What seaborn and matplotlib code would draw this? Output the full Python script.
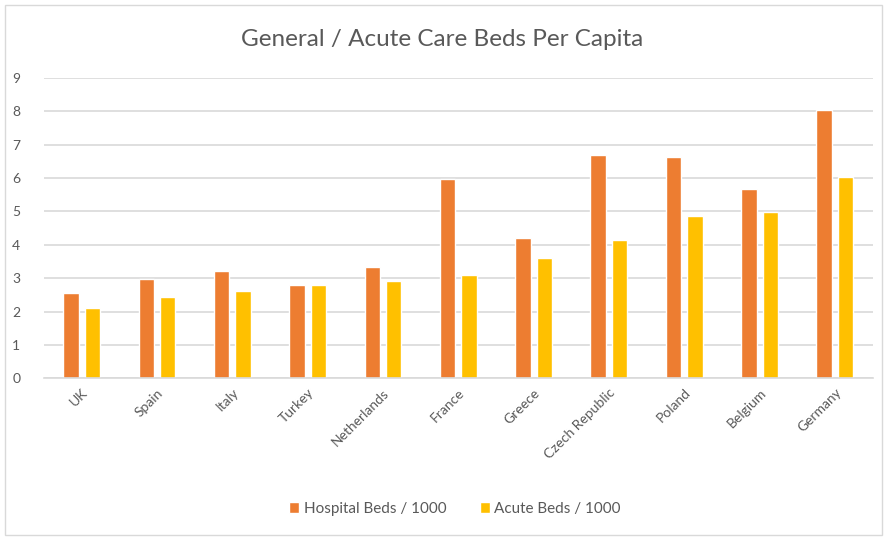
import pandas as pd
import seaborn as sns
import matplotlib.pyplot as plt
from matplotlib.patches import Rectangle

# Values
countries = ['UK', 'Spain', 'Italy', 'Turkey', 'Netherlands', 'France', 'Greece',
             'Czech Republic', 'Poland', 'Belgium', 'Germany']
hospital_beds = [2.56, 2.98, 3.21, 2.79, 3.32, 5.98, 4.2, 6.68, 6.62, 5.68, 8.03]
acute_beds = [2.09, 2.44, 2.62, 2.79, 2.92, 3.08, 3.61, 4.14, 4.85, 4.97, 6.03]
series_names = ['Hospital Beds / 1000', 'Acute Beds / 1000']
y_ticks = list(range(0, 10))

df = pd.DataFrame({'Country': countries,
                   series_names[0]: hospital_beds,
                   series_names[1]: acute_beds})
long_df = df.melt(id_vars='Country', var_name='Series', value_name='Beds')

sns.set_theme(style='white')
plt.rcParams['font.family'] = ['Lato', 'DejaVu Sans']
text_col = '#595959'
grid_col = '#d9d9d9'

fig = plt.figure(figsize=(8.85, 5.38), dpi=100)
ax = fig.add_axes([0.0497, 0.297, 0.9363, 0.558])

sns.barplot(data=long_df, x='Country', y='Beds', hue='Series', ax=ax,
            palette=['#ED7D31', '#FFC000'], width=0.57, gap=0.28,
            saturation=1, legend=True)

ax.set_ylim(0, 9)
ax.set_yticks(y_ticks)
ax.set_xlim(-0.5, len(countries) - 0.5)
ax.yaxis.grid(True, color=grid_col, linewidth=1.2)
ax.set_axisbelow(True)
for s in ['top', 'right', 'left']:
    ax.spines[s].set_visible(False)
ax.spines['bottom'].set_color(grid_col)
ax.spines['bottom'].set_linewidth(1.2)
ax.tick_params(axis='y', length=0, pad=17, labelsize=10, labelcolor=text_col)
ax.tick_params(axis='x', length=0, pad=6, labelsize=10, labelcolor=text_col)
plt.setp(ax.get_xticklabels(), rotation=45, ha='right', rotation_mode='anchor')
ax.set_xlabel('')
ax.set_ylabel('')

fig.text(0.5, 0.926, 'General / Acute Care Beds Per Capita', ha='center', va='center',
         fontsize=17.5, color=text_col)

ax.legend(loc='center', bbox_to_anchor=(0.514, 0.054), bbox_transform=fig.transFigure,
          ncol=2, frameon=False, fontsize=11, labelcolor=text_col,
          handlelength=0.65, handleheight=0.65, handletextpad=0.3, columnspacing=2.2)

fig.patches.append(Rectangle((0.006, 0.006), 0.991, 0.985, transform=fig.transFigure,
                             fill=False, edgecolor=grid_col, linewidth=1))

fig.savefig('out.png', dpi=100)
